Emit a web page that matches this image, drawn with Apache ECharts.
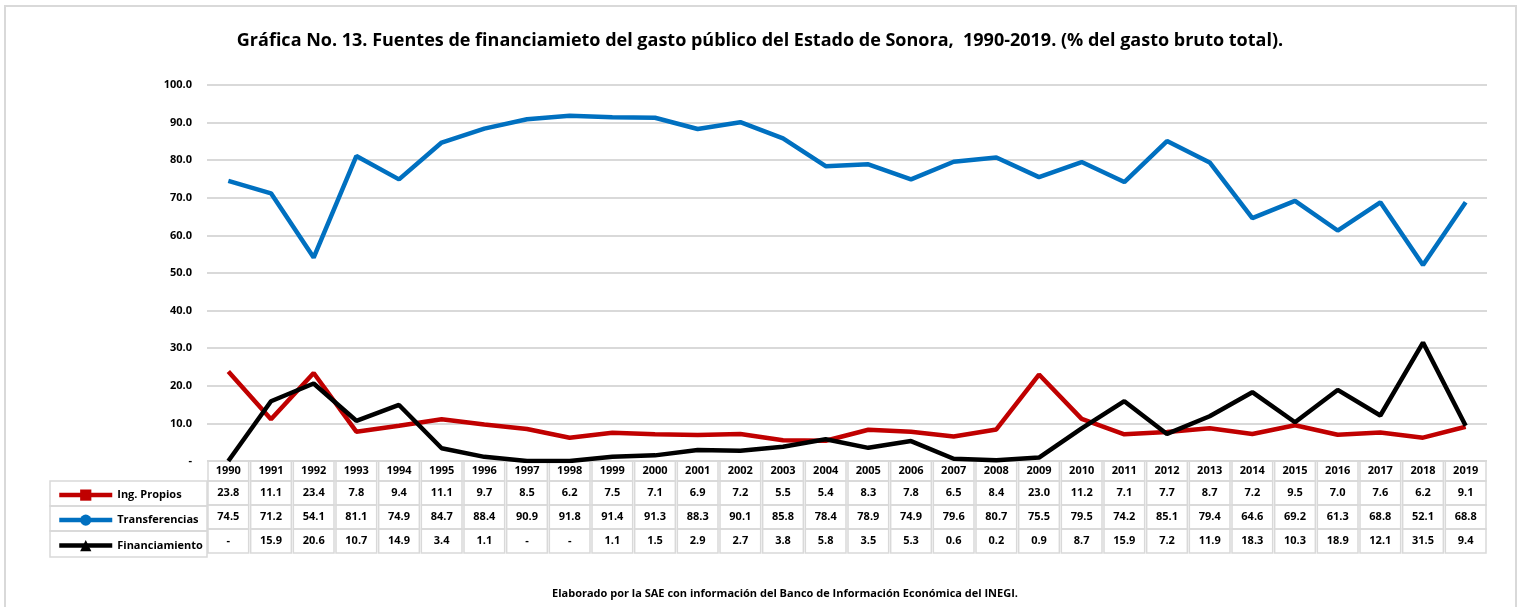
<!DOCTYPE html>
<html>
<head>
<meta charset="utf-8">
<script src="https://cdn.jsdelivr.net/npm/echarts@6/dist/echarts.min.js"></script>
<style>
  html, body { margin: 0; padding: 0; background: #fff; }
  #chart { width: 1520px; height: 607px; }
</style>
</head>
<body>
<div id="chart"></div>
<script>
// datos de la gráfica (% del gasto bruto total)
var years = ["1990", "1991", "1992", "1993", "1994", "1995", "1996", "1997", "1998", "1999",
  "2000", "2001", "2002", "2003", "2004", "2005", "2006", "2007", "2008", "2009",
  "2010", "2011", "2012", "2013", "2014", "2015", "2016", "2017", "2018", "2019"];
var ingPropios = [23.8, 11.1, 23.4, 7.8, 9.4, 11.1, 9.7, 8.5, 6.2, 7.5,
  7.1, 6.9, 7.2, 5.5, 5.4, 8.3, 7.8, 6.5, 8.4, 23.0,
  11.2, 7.1, 7.7, 8.7, 7.2, 9.5, 7.0, 7.6, 6.2, 9.1];
var transferencias = [74.5, 71.2, 54.1, 81.1, 74.9, 84.7, 88.4, 90.9, 91.8, 91.4,
  91.3, 88.3, 90.1, 85.8, 78.4, 78.9, 74.9, 79.6, 80.7, 75.5,
  79.5, 74.2, 85.1, 79.4, 64.6, 69.2, 61.3, 68.8, 52.1, 68.8];
var financiamiento = [0, 15.9, 20.6, 10.7, 14.9, 3.4, 1.1, 0, 0, 1.1,
  1.5, 2.9, 2.7, 3.8, 5.8, 3.5, 5.3, 0.6, 0.2, 0.9,
  8.7, 15.9, 7.2, 11.9, 18.3, 10.3, 18.9, 12.1, 31.5, 9.4];

var FONT = "Open Sans";
var GRID_LEFT = 207, GRID_RIGHT = 33, GRID_TOP = 85, GRID_BOTTOM = 146;
var colW = (1520 - GRID_LEFT - GRID_RIGHT) / years.length;
var cellBorder = "#D9D9D9";

function fmt(v) {
  return v === 0 ? "-" : v.toFixed(1);
}

function cell(h) {
  return {
    width: colW - 2,
    height: h,
    align: "center",
    verticalAlign: "middle",
    fontFamily: FONT,
    fontWeight: "bold",
    fontSize: 11,
    color: "#000",
    borderColor: cellBorder,
    borderWidth: 1.5
  };
}

var chart = echarts.init(document.getElementById("chart"));

var rowTops = [481, 506, 531, 557];
var legendNames = ["Ing. Propios", "Transferencias", "Financiamiento"];

var graphics = [
  // marco exterior
  {
    type: "rect",
    shape: { x: 5, y: 6, width: 1511, height: 620 },
    style: { fill: "none", stroke: "#D9D9D9", lineWidth: 2 },
    silent: true
  }
];
legendNames.forEach(function (n, i) {
  graphics.push({
    type: "rect",
    shape: { x: 50, y: rowTops[i], width: GRID_LEFT - 50, height: rowTops[i + 1] - rowTops[i] },
    style: { fill: "none", stroke: cellBorder, lineWidth: 1.5 },
    silent: true
  });
});

chart.setOption({
  animation: false,
  title: [
    {
      text: "Gráfica No. 13. Fuentes de financiamieto del gasto público del Estado de Sonora,  1990-2019. (% del gasto bruto total).",
      left: "center",
      top: 27,
      textStyle: { fontFamily: FONT, fontWeight: "bold", fontSize: 18, color: "#000" }
    },
    {
      text: "Elaborado por la SAE con información del Banco de Información Económica del INEGI.",
      left: 780,
      textAlign: "center",
      top: 583,
      textStyle: { fontFamily: FONT, fontWeight: "bold", fontSize: 11, color: "#000" }
    }
  ],
  legend: legendNames.map(function (n, i) {
    return {
      data: [n],
      left: 57,
      top: (rowTops[i] + rowTops[i + 1]) / 2 - 4,
      padding: 0,
      itemWidth: 53,
      itemHeight: 14,
      itemGap: 5,
      selectedMode: false,
      lineStyle: { width: 4.5 },
      textStyle: { fontFamily: FONT, fontWeight: "bold", fontSize: 11, color: "#000" }
    };
  }),
  grid: {
    left: GRID_LEFT,
    right: GRID_RIGHT,
    top: GRID_TOP,
    bottom: GRID_BOTTOM,
    containLabel: false
  },
  xAxis: {
    type: "category",
    data: years,
    boundaryGap: true,
    axisLine: { show: false },
    axisTick: { show: false },
    axisLabel: {
      interval: 0,
      margin: 0,
      formatter: function (v, idx) {
        return "{y|" + v + "}\n{r|" + fmt(ingPropios[idx]) + "}\n{r|" +
          fmt(transferencias[idx]) + "}\n{r|" + fmt(financiamiento[idx]) + "}";
      },
      rich: {
        y: cell(20),
        r: cell(24)
      }
    }
  },
  yAxis: {
    type: "value",
    min: 0,
    max: 100,
    interval: 10,
    axisLine: { show: false },
    axisTick: { show: false },
    axisLabel: {
      margin: 15,
      formatter: function (v) { return fmt(v); },
      fontFamily: FONT,
      fontWeight: "bold",
      fontSize: 11,
      color: "#000"
    },
    splitLine: { lineStyle: { color: "#D9D9D9", width: 2 } }
  },
  graphic: graphics,
  series: [
    {
      name: "Ing. Propios",
      type: "line",
      data: ingPropios,
      symbol: "rect",
      symbolSize: 13,
      showSymbol: false,
      itemStyle: { color: "#C00000" },
      lineStyle: { color: "#C00000", width: 4.5 }
    },
    {
      name: "Transferencias",
      type: "line",
      data: transferencias,
      symbol: "circle",
      symbolSize: 13,
      showSymbol: false,
      itemStyle: { color: "#0070C0" },
      lineStyle: { color: "#0070C0", width: 4.5 }
    },
    {
      name: "Financiamiento",
      type: "line",
      data: financiamiento,
      symbol: "triangle",
      symbolSize: 13,
      showSymbol: false,
      itemStyle: { color: "#000000" },
      lineStyle: { color: "#000000", width: 4.5 }
    }
  ]
});
</script>
</body>
</html>
